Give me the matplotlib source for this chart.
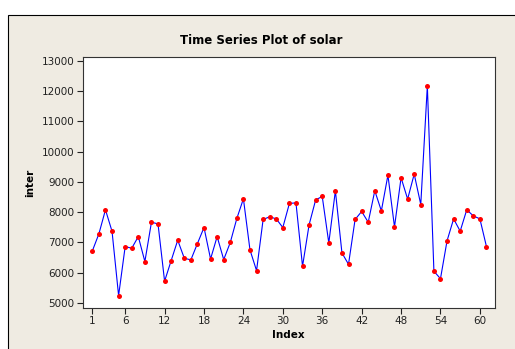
import matplotlib
matplotlib.use("Agg")
import matplotlib.pyplot as plt
from matplotlib.patches import Rectangle

# values
index = list(range(1, 62))
inter = [6720, 7285, 8080, 7370, 5245, 6865, 6810, 7195, 6370, 7670,
         7615, 5720, 6400, 7075, 6480, 6425, 6965, 7495, 6455, 7195,
         6435, 7000, 7795, 8445, 6755, 6070, 7760, 7850, 7780, 7495,
         8290, 8310, 6215, 7585, 8410, 8520, 6985, 8710, 6655, 6280,
         7760, 8025, 7670, 8710, 8045, 9225, 7515, 9140, 8435, 9260,
         8255, 12175, 6050, 5805, 7055, 7780, 7375, 8080, 7880, 7780,
         6865]
xticks = [1, 6, 12, 18, 24, 30, 36, 42, 48, 54, 60]
yticks = [5000, 6000, 7000, 8000, 9000, 10000, 11000, 12000, 13000]

W, H = 515, 349
fig = plt.figure(figsize=(W / 100, H / 100), dpi=100)
fig.patch.set_facecolor("white")

# beige panel behind the plot
panel = Rectangle((8 / W, -0.01), 1.0, 1 - 15 / H + 0.01,
                  transform=fig.transFigure, facecolor="#EFEBE2",
                  edgecolor="black", linewidth=0.8, zorder=-10)
fig.patches.append(panel)

ax = fig.add_axes([83 / W, 1 - 308 / H, (495 - 83) / W, (308 - 57) / H])
ax.set_facecolor("white")

ax.plot(index, inter, color="#0000FF", linewidth=0.8, zorder=2)
ax.plot(index, inter, linestyle="none", marker="o", markersize=3.6,
        color="#FF0000", markeredgewidth=0, zorder=3)

ax.set_xlim(-0.42, 62.3)
ax.set_ylim(4835, 13130)
ax.set_xticks(xticks)
ax.set_yticks(yticks)
ax.tick_params(direction="out", length=4, width=0.8, labelsize=7.5,
               colors="#222222", pad=2)
for s in ax.spines.values():
    s.set_color("#333333")
    s.set_linewidth(0.8)

fig.text(261 / W, 1 - 40 / H, "Time Series Plot of solar", ha="center",
         va="center", fontsize=8.5, fontweight="bold")
fig.text(288 / W, 1 - 335 / H, "Index", ha="center", va="center",
         fontsize=7.5, fontweight="bold")
fig.text(30 / W, 1 - 183 / H, "inter", ha="center", va="center",
         rotation=90, fontsize=7.5, fontweight="bold")

fig.savefig("out.png", dpi=100)
